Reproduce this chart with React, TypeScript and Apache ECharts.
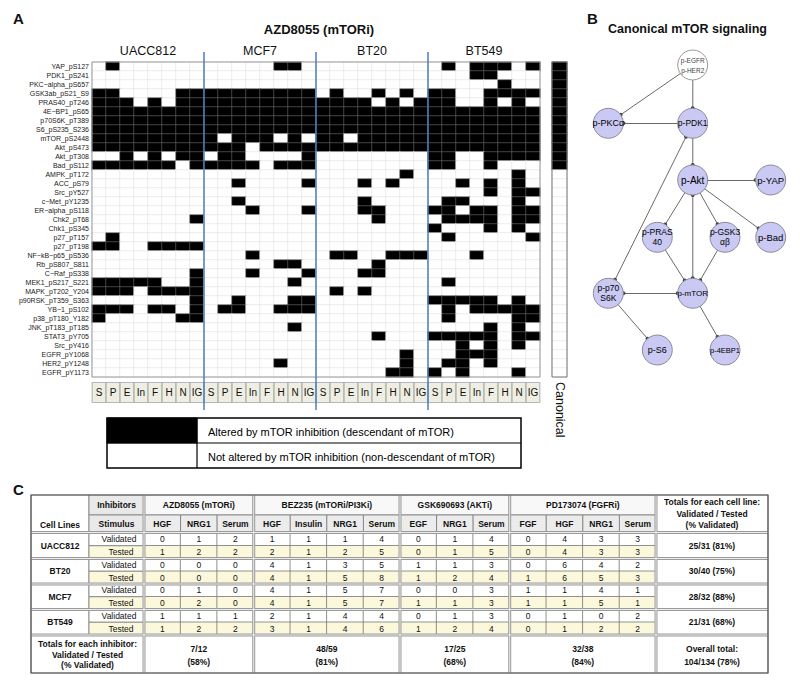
import React, { useEffect, useRef } from 'react';
import * as echarts from 'echarts';

const FONT = '"Liberation Sans", Arial, Helvetica, sans-serif';

// ---------------- Panel A data ----------------
const proteins = [
  'YAP_pS127', 'PDK1_pS241', 'PKC\u2212alpha_pS657', 'GSK3ab_pS21_S9', 'PRAS40_pT246',
  '4E\u2212BP1_pS65', 'p70S6K_pT389', 'S6_pS235_S236', 'mTOR_pS2448', 'Akt_pS473',
  'Akt_pT308', 'Bad_pS112', 'AMPK_pT172', 'ACC_pS79', 'Src_pY527',
  'c\u2212Met_pY1235', 'ER\u2212alpha_pS118', 'Chk2_pT68', 'Chk1_pS345', 'p27_pT157',
  'p27_pT198', 'NF\u2212kB\u2212p65_pS536', 'Rb_pS807_S811', 'C\u2212Raf_pS338', 'MEK1_pS217_S221',
  'MAPK_pT202_Y204', 'p90RSK_pT359_S363', 'YB\u22121_pS102', 'p38_pT180_Y182', 'JNK_pT183_pT185',
  'STAT3_pY705', 'Src_pY416', 'EGFR_pY1068', 'HER2_pY1248', 'EGFR_pY1173',
];
const cellLines = ['UACC812', 'MCF7', 'BT20', 'BT549'];
const stimuli = ['S', 'P', 'E', 'In', 'F', 'H', 'N', 'IG'];
// 1 = altered by mTOR inhibition; groups: UACC812 | MCF7 | BT20 | BT549
const alteredRows = [
  '01000000 00000110 00000000 01011101',
  '00000000 00000000 00000000 00011000',
  '00000000 00000000 00000000 00000100',
  '11000011 11111111 01001010 11001111',
  '11101011 11111111 11110101 11001010',
  '11111111 11111111 11111111 11111111',
  '11111111 11111111 11111111 11111111',
  '11111111 11111111 11111111 11111111',
  '11111111 10111010 11011111 11111111',
  '11111111 11101111 11111111 11111111',
  '00101011 01100001 00000000 11001111',
  '11111101 11110111 00000000 11001000',
  '00000000 00000000 00000010 00000010',
  '00000000 00100001 00010100 00101010',
  '00000000 00000000 00000000 00001011',
  '00000000 00100000 00010000 01100010',
  '00000000 00010001 00011000 11011011',
  '00000001 00000000 00001000 01111011',
  '00000000 00000000 00000000 10001010',
  '01000000 00000000 00000000 01000001',
  '11001111 00000000 00000000 00000000',
  '00000000 00010000 01100111 00010000',
  '00000000 00000110 00001000 00000000',
  '00000001 00010001 00011000 00000000',
  '11111001 00000010 00000000 01000000',
  '11101111 00000000 01010000 00000000',
  '00000001 00100011 00000000 11111010',
  '11101101 01100111 00000000 01011111',
  '10000011 00000000 00000000 01000011',
  '00000000 00000010 00000000 00001010',
  '00000000 00000000 00001000 11111011',
  '00000000 00000000 00000000 00101010',
  '00000000 00000000 00000010 00111000',
  '00000000 00000100 00000010 01101000',
  '00000000 00000000 00000110 10100010',
];
const canonical = [1, 1, 1, 1, 1, 1, 1, 1, 1, 1, 1, 1, 0, 0, 0, 0, 0, 0, 0, 0, 0, 0, 0, 0, 0, 0, 0, 0, 0, 0, 0, 0, 0, 0, 0];
const legendLabels = ['Altered by mTOR inhibition (descendant of mTOR)', 'Not altered by mTOR inhibition (non-descendant of mTOR)'];

// ---------------- Panel B data ----------------
const nodeIds = ['EGFR', 'PKC', 'PDK1', 'Akt', 'YAP', 'PRAS40', 'GSK3', 'Bad', 'p70', 'mTOR', 'S6', '4EBP1'];
const nodeLabels = ['p-EGFR\np-HER2', 'p-PKC\u03b1', 'p-PDK1', 'p-Akt', 'p-YAP', 'p-PRAS\n40', 'p-GSK3\n\u03b1\u03b2', 'p-Bad', 'p-p70\nS6K', 'p-mTOR', 'p-S6', 'p-4EBP1'];
const nodeLayout = [
  [84.4, 0], [0, 58.3], [84.4, 58.3], [84.4, 115], [162.4, 115], [49, 172.3],
  [116.7, 172.3], [162.4, 172.3], [0, 228.3], [84.4, 228.3], [49, 285], [116.7, 285],
];
const edges: [string, string, boolean][] = [
  ['EGFR', 'PKC', false], ['EGFR', 'PDK1', false], ['PDK1', 'PKC', false], ['PDK1', 'Akt', false],
  ['Akt', 'YAP', false], ['Akt', 'PRAS40', false], ['Akt', 'GSK3', false], ['Akt', 'Bad', false],
  ['Akt', 'mTOR', true], ['PRAS40', 'mTOR', false], ['GSK3', 'mTOR', false], ['p70', 'mTOR', true],
  ['p70', 'PDK1', true], ['p70', 'S6', false], ['mTOR', '4EBP1', false],
];

// ---------------- Panel C data ----------------
const tableCellLines = ['UACC812', 'BT20', 'MCF7', 'BT549'];
const inhibitors = ['AZD8055 (mTORi)', 'BEZ235 (mTORi/PI3Ki)', 'GSK690693 (AKTi)', 'PD173074 (FGFRi)'];
const inhibitorStimuli = [['HGF', 'NRG1', 'Serum'], ['HGF', 'Insulin', 'NRG1', 'Serum'], ['EGF', 'NRG1', 'Serum'], ['FGF', 'HGF', 'NRG1', 'Serum']];
const validated = [
  [0, 1, 2, 1, 1, 1, 4, 0, 1, 4, 0, 4, 3, 3],
  [0, 0, 0, 4, 1, 3, 5, 1, 1, 3, 0, 6, 4, 2],
  [0, 1, 0, 4, 1, 5, 7, 0, 0, 3, 1, 1, 4, 1],
  [1, 1, 1, 2, 1, 4, 4, 0, 1, 3, 0, 1, 0, 2],
];
const tested = [
  [1, 2, 2, 2, 1, 2, 5, 0, 1, 5, 0, 4, 3, 3],
  [0, 0, 0, 4, 1, 5, 8, 1, 2, 4, 1, 6, 5, 3],
  [0, 2, 0, 4, 1, 5, 7, 1, 1, 3, 1, 1, 5, 1],
  [1, 2, 2, 3, 1, 4, 6, 1, 2, 4, 0, 1, 2, 2],
];

// ---------------- layout ----------------
const HM = { left: 92, top: 62, width: 448, height: 315 };
const CG = { left: 552, top: 62, width: 15, height: 315 };
const TB = { left: 144, top: 533, width: 512, height: 102 };
const TBL = { left: 31, right: 768, top: 495, h1: 515, h2: 532, bottom: 673, col1: 89, totX: 656 };
const GRAPH_BOX = { left: 608.3, top: 65, width: 162.4, height: 285 };
const nodeFont = [6.5, 9, 8.5, 10, 9.5, 8.5, 8.5, 9.5, 8.5, 8, 9, 7.5];
const CREAM = '#fcf8dc';

function txt(x: number, y: number, text: string, o: any = {}) {
  const align = o.align || 'center';
  const va = o.verticalAlign || 'middle';
  return {
    type: 'text', x, y, z: o.z ?? 40, silent: true,
    style: {
      text, fill: o.fill || '#111', fontFamily: FONT, fontSize: o.fontSize || 8.5,
      fontWeight: o.fontWeight || 'normal', align, textAlign: align, verticalAlign: va,
      textVerticalAlign: va, lineHeight: o.lineHeight,
    },
  };
}
function rect(x: number, y: number, w: number, h: number, fill: string, o: any = {}) {
  return {
    type: 'rect', z: o.z ?? 5, silent: true,
    shape: { x, y, width: w, height: h },
    style: { fill, stroke: o.stroke || '#7a7a7a', lineWidth: o.lineWidth ?? 0.8 },
  };
}
function line(x1: number, y1: number, x2: number, y2: number, stroke: string, lw: number, z = 30) {
  return { type: 'line', z, silent: true, shape: { x1, y1, x2, y2 }, style: { stroke, lineWidth: lw } };
}
function dbl(x1: number, y1: number, x2: number, y2: number) {
  return [line(x1, y1, x2, y2, '#9b9b9b', 3, 31), line(x1, y1, x2, y2, '#f5f5f5', 0.9, 32)];
}
const pct = (v: number, t: number) => Math.round((v / t) * 100);
const sum = (a: number[]) => a.reduce((s, x) => s + x, 0);

function buildOption() {
  const xCats = cellLines.flatMap((cl) => stimuli.map((s) => `${cl}|${s}`));
  const mainData: any[] = [];
  alteredRows.forEach((row, r) => {
    const bits = row.replace(/\s/g, '');
    for (let c = 0; c < bits.length; c++) {
      const v = bits[c] === '1' ? 1 : 0;
      mainData.push({ value: [c, r, v], itemStyle: { borderColor: v ? '#6a6a6a' : '#e2e2e2' } });
    }
  });
  const canonData = canonical.map((v, r) => ({ value: [0, r, v], itemStyle: { borderColor: v ? '#6a6a6a' : '#e2e2e2' } }));

  // table body: third value = row kind (0 validated, 1 tested); the label shows the count
  const tableX = inhibitorStimuli.flatMap((st, gi) => st.map((s) => `${gi}|${s}`));
  const tableY: string[] = [];
  tableCellLines.forEach((cl) => { tableY.push(`${cl}|V`); tableY.push(`${cl}|T`); });
  const tableData: any[] = [];
  tableCellLines.forEach((cl, ci) => {
    validated[ci].forEach((_v, xi) => tableData.push([xi, ci * 2, 0]));
    tested[ci].forEach((_v, xi) => tableData.push([xi, ci * 2 + 1, 1]));
  });
  const tableLabel = (p: any) => {
    const xi = p.value[0];
    const yi = p.value[1];
    const ci = Math.floor(yi / 2);
    return String((yi % 2 ? tested : validated)[ci][xi]);
  };

  const g: any[] = [];
  g.push(txt(13, 18, 'A', { fontSize: 15, fontWeight: 'bold', align: 'left' }));
  g.push(txt(587, 18, 'B', { fontSize: 15, fontWeight: 'bold', align: 'left' }));
  g.push(txt(13, 489, 'C', { fontSize: 15, fontWeight: 'bold', align: 'left' }));
  g.push(txt(HM.left + HM.width / 2 + 3, 29, 'AZD8055 (mTORi)', { fontSize: 13, fontWeight: 'bold' }));
  g.push(txt(GRAPH_BOX.left + GRAPH_BOX.width / 2 - 2, 29, 'Canonical mTOR signaling', { fontSize: 12.5, fontWeight: 'bold' }));

  g.push({ type: 'rect', z: 20, silent: true, shape: { x: HM.left, y: HM.top, width: HM.width, height: HM.height }, style: { fill: 'none', stroke: '#9a9a9a', lineWidth: 1 } });
  g.push({ type: 'rect', z: 20, silent: true, shape: { x: CG.left, y: CG.top, width: CG.width, height: CG.height }, style: { fill: 'none', stroke: '#777', lineWidth: 1 } });
  for (let k = 1; k < cellLines.length; k++) {
    const x = HM.left + (HM.width * k) / cellLines.length;
    g.push(line(x, 52, x, 410, '#4a7ebb', 1.5, 25));
  }

  const L = { x: 107, y: 418, w: 414, h: 50, split: 197 };
  g.push(rect(L.x, L.y, L.split - L.x, L.h / 2, '#000', { z: 10, stroke: '#000' }));
  g.push({ type: 'rect', z: 11, silent: true, shape: { x: L.x, y: L.y, width: L.w, height: L.h }, style: { fill: 'none', stroke: '#000', lineWidth: 1.5 } });
  g.push(line(L.x, L.y + L.h / 2, L.x + L.w, L.y + L.h / 2, '#000', 1.2, 11));
  g.push(line(L.split, L.y, L.split, L.y + L.h, '#000', 1.2, 11));
  legendLabels.forEach((t, i) => g.push(txt(L.split + 11, L.y + L.h / 4 + (i * L.h) / 2 + 1, t, { fontSize: 11, align: 'left', fill: '#000' })));

  // ---------------- table ----------------
  const cw = TB.width / tableX.length;
  const rowH = TB.height / tableY.length;
  const colX = (i: number) => TB.left + i * cw;
  const BB = TB.top + TB.height;
  g.push({ type: 'rect', z: 1, silent: true, shape: { x: TBL.left, y: TBL.top, width: TBL.right - TBL.left, height: TBL.bottom - TBL.top }, style: { fill: '#fff', stroke: 'none' } });
  g.push(rect(TBL.left, TBL.top, TBL.col1 - TBL.left, TBL.h2 - TBL.top, '#fff'));
  g.push(txt((TBL.left + TBL.col1) / 2, 525, 'Cell Lines', { fontWeight: 'bold' }));
  g.push(rect(TBL.col1, TBL.top, TB.left - TBL.col1, TBL.h1 - TBL.top, '#e9e9e9'));
  g.push(txt((TBL.col1 + TB.left) / 2, (TBL.top + TBL.h1) / 2, 'Inhibitors', { fontWeight: 'bold' }));
  g.push(rect(TBL.col1, TBL.h1, TB.left - TBL.col1, TBL.h2 - TBL.h1, '#e9e9e9'));
  g.push(txt((TBL.col1 + TB.left) / 2, (TBL.h1 + TBL.h2) / 2, 'Stimulus', { fontWeight: 'bold' }));
  const groupStart: number[] = [];
  let acc = 0;
  inhibitorStimuli.forEach((st, gi) => {
    groupStart.push(acc);
    const x0 = colX(acc);
    const w = st.length * cw;
    g.push(rect(x0, TBL.top, w, TBL.h1 - TBL.top, '#f8f8f8'));
    g.push(txt(x0 + w / 2, (TBL.top + TBL.h1) / 2, inhibitors[gi], { fontWeight: 'bold' }));
    st.forEach((s, k) => {
      g.push(rect(colX(acc + k), TBL.h1, cw, TBL.h2 - TBL.h1, '#ececec'));
      g.push(txt(colX(acc + k) + cw / 2, (TBL.h1 + TBL.h2) / 2, s, { fontWeight: 'bold' }));
    });
    acc += st.length;
  });
  groupStart.push(acc);
  const totW = TBL.right - TBL.totX;
  g.push(rect(TBL.totX, TBL.top, totW, TBL.h2 - TBL.top, '#fff'));
  g.push(txt(TBL.totX + totW / 2, 513.5, 'Totals for each cell line:\nValidated / Tested\n(% Validated)', { fontWeight: 'bold', lineHeight: 11.3 }));
  tableCellLines.forEach((cl, ci) => {
    const y0 = TB.top + ci * 2 * rowH;
    g.push(rect(TBL.left, y0, TBL.col1 - TBL.left, 2 * rowH, '#fff'));
    g.push(txt((TBL.left + TBL.col1) / 2, y0 + rowH, cl, { fontWeight: 'bold' }));
    g.push(rect(TBL.col1, y0, TB.left - TBL.col1, rowH, '#fff'));
    g.push(txt(119, y0 + rowH / 2, 'Validated'));
    g.push(rect(TBL.col1, y0 + rowH, TB.left - TBL.col1, rowH, CREAM));
    g.push(txt(121, y0 + rowH * 1.5, 'Tested'));
    const v = sum(validated[ci]);
    const t = sum(tested[ci]);
    g.push(rect(TBL.totX, y0, totW, 2 * rowH, '#fff'));
    g.push(txt(TBL.totX + totW / 2, y0 + rowH, `${v}/${t} (${pct(v, t)}%)`, { fontWeight: 'bold' }));
  });
  g.push(rect(TBL.left, BB, TB.left - TBL.left, TBL.bottom - BB, '#fff'));
  g.push(txt((TBL.left + TB.left) / 2, 654.5, 'Totals for each inhibitor:\nValidated / Tested\n(% Validated)', { fontWeight: 'bold', lineHeight: 10.3 }));
  let allV = 0;
  let allT = 0;
  inhibitorStimuli.forEach((st, gi) => {
    let v = 0;
    let t = 0;
    for (let ci = 0; ci < tableCellLines.length; ci++) {
      for (let k = groupStart[gi]; k < groupStart[gi + 1]; k++) { v += validated[ci][k]; t += tested[ci][k]; }
    }
    allV += v;
    allT += t;
    const x0 = colX(groupStart[gi]);
    const w = st.length * cw;
    g.push(rect(x0, BB, w, TBL.bottom - BB, '#fff'));
    g.push(txt(x0 + w / 2, 655, `${v}/${t}\n(${pct(v, t)}%)`, { fontWeight: 'bold', lineHeight: 13 }));
  });
  g.push(rect(TBL.totX, BB, totW, TBL.bottom - BB, '#fff'));
  g.push(txt(TBL.totX + totW / 2, 655.5, `Overall total:\n${allV}/${allT} (${pct(allV, allT)}%)`, { fontWeight: 'bold', lineHeight: 12.4 }));
  [TB.left, ...groupStart.slice(1, -1).map(colX), TBL.totX].forEach((x) => g.push(...dbl(x, TBL.top, x, TBL.bottom)));
  const hy = [TBL.h2 + 0.5];
  for (let ci = 1; ci < tableCellLines.length; ci++) hy.push(TB.top + ci * 2 * rowH);
  hy.push(BB);
  hy.forEach((y) => g.push(...dbl(TBL.left, y, TBL.right, y)));
  g.push({ type: 'rect', z: 35, silent: true, shape: { x: TBL.left, y: TBL.top, width: TBL.right - TBL.left, height: TBL.bottom - TBL.top }, style: { fill: 'none', stroke: '#555', lineWidth: 1.2 } });

  const hiddenAxis = { axisLine: { show: false }, axisTick: { show: false }, axisLabel: { show: false }, splitLine: { show: false } };

  return {
    animation: false,
    backgroundColor: '#ffffff',
    textStyle: { fontFamily: FONT },
    grid: [
      { left: HM.left, top: HM.top, width: HM.width, height: HM.height },
      { left: CG.left, top: CG.top, width: CG.width, height: CG.height },
      { left: TB.left, top: TB.top, width: TB.width, height: TB.height },
    ],
    xAxis: [
      {
        type: 'category', gridIndex: 0, data: xCats, position: 'bottom',
        axisLine: { show: false }, axisTick: { show: false }, splitLine: { show: false },
        axisLabel: {
          interval: 0, formatter: (v: string) => v.split('|')[1], fontSize: 10, color: '#111', fontFamily: FONT,
          backgroundColor: '#efeee2', borderColor: '#a0a0a0', borderWidth: 0.8,
          width: 11, height: 17, lineHeight: 17, padding: [1, 1], align: 'center', margin: 6,
        },
      },
      {
        type: 'category', gridIndex: 0, data: cellLines, position: 'top',
        axisLine: { show: false }, axisTick: { show: false }, splitLine: { show: false },
        axisLabel: { fontSize: 12.5, color: '#111', margin: 5, fontFamily: FONT },
      },
      {
        type: 'category', gridIndex: 1, data: ['Canonical'], position: 'bottom',
        axisLine: { show: false }, axisTick: { show: false }, splitLine: { show: false },
        axisLabel: { rotate: -90, fontSize: 12.5, color: '#111', margin: 5, fontFamily: FONT },
      },
      { type: 'category', gridIndex: 2, data: tableX, ...hiddenAxis },
    ],
    yAxis: [
      {
        type: 'category', gridIndex: 0, data: proteins, inverse: true,
        axisLine: { show: false }, axisTick: { show: false }, splitLine: { show: false },
        axisLabel: { interval: 0, fontSize: 7, color: '#222', margin: 3, fontFamily: FONT },
      },
      { type: 'category', gridIndex: 1, data: proteins, inverse: true, ...hiddenAxis },
      { type: 'category', gridIndex: 2, data: tableY, inverse: true, ...hiddenAxis },
    ],
    visualMap: [
      {
        type: 'piecewise', show: false, seriesIndex: [0, 1], dimension: 2,
        pieces: [{ value: 0, color: '#ffffff' }, { value: 1, color: '#000000' }],
      },
      {
        type: 'piecewise', show: false, seriesIndex: [2], dimension: 2,
        pieces: [{ value: 0, color: '#ffffff' }, { value: 1, color: CREAM }],
      },
    ],
    series: [
      { type: 'heatmap', xAxisIndex: 0, yAxisIndex: 0, data: mainData, itemStyle: { borderWidth: 0.6 }, emphasis: { disabled: true } },
      { type: 'heatmap', xAxisIndex: 2, yAxisIndex: 1, data: canonData, itemStyle: { borderWidth: 0.6 }, emphasis: { disabled: true } },
      {
        type: 'heatmap', xAxisIndex: 3, yAxisIndex: 2, data: tableData,
        itemStyle: { borderColor: '#7a7a7a', borderWidth: 0.8 },
        label: { show: true, fontSize: 8.5, color: '#111', fontFamily: FONT, formatter: tableLabel },
        emphasis: { disabled: true },
      },
      {
        type: 'graph', layout: 'none', roam: false, ...GRAPH_BOX,
        symbol: 'circle', symbolSize: 30,
        itemStyle: { color: '#c9c9f3', borderColor: '#8b8b9c', borderWidth: 1 },
        label: { show: true, position: 'inside', color: '#000', textBorderWidth: 0, fontFamily: FONT, lineHeight: 10 },
        lineStyle: { color: '#444', width: 0.8, opacity: 1, curveness: 0 },
        edgeSymbol: ['none', 'circle'], edgeSymbolSize: 4,
        emphasis: { disabled: true },
        data: nodeIds.map((id, i) => ({
          name: id, x: nodeLayout[i][0], y: nodeLayout[i][1],
          label: { formatter: nodeLabels[i], fontSize: nodeFont[i], color: id === 'EGFR' ? '#444' : '#000', textBorderWidth: 0 },
          itemStyle: id === 'EGFR' ? { color: '#ffffff', borderColor: '#9a9a9a' } : undefined,
        })),
        links: edges.map(([s, t, both]) => ({ source: s, target: t, symbol: both ? ['circle', 'circle'] : ['none', 'circle'] })),
      },
    ],
    graphic: g,
  };
}

export default function App() {
  const ref = useRef<HTMLDivElement>(null);
  useEffect(() => {
    if (!ref.current) return;
    const chart = echarts.init(ref.current, null, { renderer: 'svg' });
    chart.setOption(buildOption() as any);
    return () => chart.dispose();
  }, []);
  return <div ref={ref} style={{ position: 'absolute', left: 0, top: 0, width: 800, height: 686, background: '#fff' }} />;
}
